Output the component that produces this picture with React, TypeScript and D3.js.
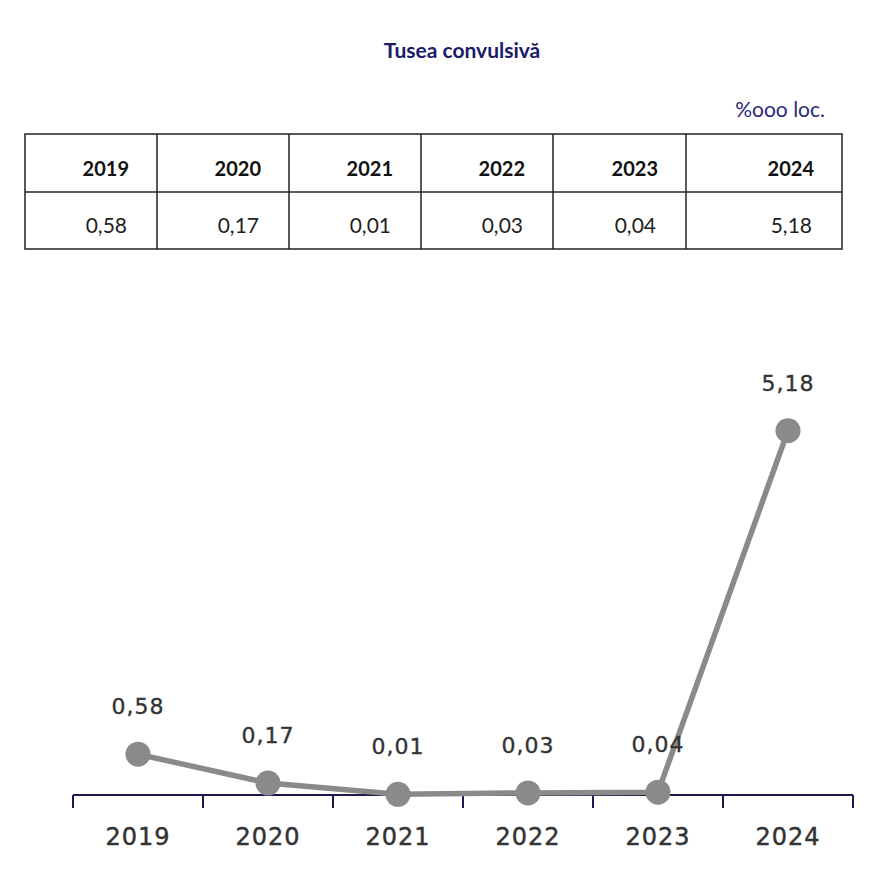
import React from "react";
import * as d3 from "d3";

const years = ["2019", "2020", "2021", "2022", "2023", "2024"];
const values = [0.58, 0.17, 0.01, 0.03, 0.04, 5.18];
const valueLabels = ["0,58", "0,17", "0,01", "0,03", "0,04", "5,18"];
const title = "Tusea convulsivă";
const unitLabel = "%ooo loc.";

const W = 882;
const H = 880;

export default function App() {
  const tLeft = 25;
  const tTop = 134;
  const tMid = 192;
  const tBottom = 249;
  const colEdges = [25, 157, 289, 421, 553, 686, 842];

  const x = d3.scaleBand<string>().domain(years).range([73, 853]).padding(0);
  const y = d3.scaleLinear().domain([0, 6]).range([795, 373]);
  const cx = (d: string) => (x(d) as number) + x.bandwidth() / 2;

  const line = d3
    .line<number>()
    .x((_, i) => cx(years[i]))
    .y((v) => y(v));

  const tickXs = [...years.map((d) => x(d) as number), (x(years[years.length - 1]) as number) + x.bandwidth()];

  return (
    <svg
      width={W}
      height={H}
      style={{ position: "absolute", left: 0, top: 0, background: "#fff" }}
    >
      <rect x={0} y={0} width={W} height={H} fill="#fff" />
      <text
        x={462}
        y={58}
        textAnchor="middle"
        fontFamily="Lato, 'Open Sans', sans-serif"
        fontWeight="bold"
        fontSize={21}
        fill="#1c1a6b"
      >
        {title}
      </text>
      <text
        x={825}
        y={117}
        textAnchor="end"
        fontFamily="Lato, 'Open Sans', sans-serif"
        fontSize={21}
        fill="#2b2a78"
      >
        {unitLabel}
      </text>

      <g stroke="#222" strokeWidth={1.5} fill="none">
        <rect x={tLeft} y={tTop} width={colEdges[6] - tLeft} height={tBottom - tTop} />
        <line x1={tLeft} x2={colEdges[6]} y1={tMid} y2={tMid} />
        {colEdges.slice(1, 6).map((cx0, i) => (
          <line key={i} x1={cx0} x2={cx0} y1={tTop} y2={tBottom} />
        ))}
      </g>
      {years.map((yr, i) => (
        <text
          key={"h" + yr}
          x={colEdges[i + 1] - 28}
          y={176}
          textAnchor="end"
          fontFamily="Lato, 'Open Sans', sans-serif"
          fontWeight="bold"
          fontSize={20}
          fill="#111"
        >
          {yr}
        </text>
      ))}
      {valueLabels.map((v, i) => (
        <text
          key={"v" + i}
          x={colEdges[i + 1] - 30}
          y={233}
          textAnchor="end"
          fontFamily="Lato, 'Open Sans', sans-serif"
          fontSize={21}
          fill="#222"
        >
          {v}
        </text>
      ))}

      <line x1={73} x2={853} y1={y(0)} y2={y(0)} stroke="#1a1a4e" strokeWidth={2} />
      {tickXs.map((tx, i) => (
        <line key={"t" + i} x1={tx} x2={tx} y1={y(0)} y2={y(0) + 13} stroke="#1a1a4e" strokeWidth={2} />
      ))}
      <path d={line(values) || ""} fill="none" stroke="#8a8a8a" strokeWidth={5.5} />
      {values.map((v, i) => (
        <circle key={"c" + i} cx={cx(years[i])} cy={y(v)} r={12.5} fill="#8a8a8a" />
      ))}
      {values.map((v, i) => (
        <text
          key={"l" + i}
          x={cx(years[i])}
          y={y(v) - 40}
          textAnchor="middle"
          fontFamily="'DejaVu Sans', sans-serif"
          fontSize={22}
          letterSpacing={1}
          fill="#333"
          stroke="#333"
          strokeWidth={0.35}
        >
          {valueLabels[i]}
        </text>
      ))}
      {years.map((yr) => (
        <text
          key={"x" + yr}
          x={cx(yr)}
          y={845}
          textAnchor="middle"
          fontFamily="'DejaVu Sans', sans-serif"
          fontSize={24}
          letterSpacing={1}
          fill="#333"
          stroke="#333"
          strokeWidth={0.45}
        >
          {yr}
        </text>
      ))}
    </svg>
  );
}
